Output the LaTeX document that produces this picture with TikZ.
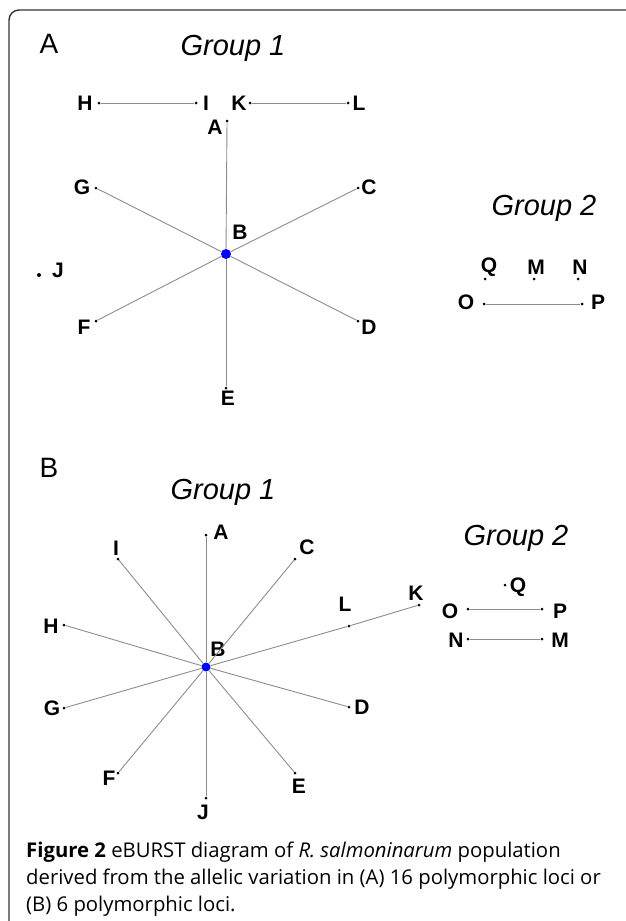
\documentclass[tikz,border=0pt]{standalone}
\usepackage{fontspec}
\newfontfamily\labfont{Liberation Sans}
\newfontfamily\capfont{Open Sans}
\begin{document}
\begin{tikzpicture}[x=1pt,y=-1pt,
  dot/.style={circle,fill=black,inner sep=0pt,minimum size=3pt},
  hub/.style={circle,fill=blue,inner sep=0pt,minimum size=10pt},
  lbl/.style={inner sep=0pt,font=\labfont\bfseries\fontsize{21}{21}\selectfont},
  grp/.style={inner sep=0pt,font=\labfont\itshape\fontsize{29}{29}\selectfont},
  panel/.style={inner sep=0pt,font=\labfont\fontsize{28}{28}\selectfont},
  edge/.style={draw=black!45,line width=0.9pt},
  captext/.style={inner sep=0pt,anchor=base west,font=\capfont\fontsize{20.3}{24}\selectfont},
  frame/.style={draw=black!80,line width=1.4pt,rounded corners=10pt}
]
\useasboundingbox (0,0) rectangle (625,921);
\draw[frame] (9,925) -- (9,10) -- (630,10);

% ---------------- Panel A ----------------
\node[panel] (pA) at (49,44) {A};
\node[grp] (gA1) at (233,48) {Group 1};
\node[grp] (gA2) at (544,208) {Group 2};

\node[hub] (aB) at (226,254) {};
\node[dot] (aA) at (227,121) {};
\node[dot] (aC) at (358,188) {};
\node[dot] (aD) at (358,321) {};
\node[dot] (aE) at (226,388) {};
\node[dot] (aF) at (96,321) {};
\node[dot] (aG) at (96,188) {};
\node[dot] (aH) at (99,103) {};
\node[dot] (aI) at (196,103) {};
\node[dot] (aK) at (250,103) {};
\node[dot] (aL) at (348,103) {};
\node[dot,minimum size=4pt] (aJ) at (39,275) {};
\node[dot] (aQ) at (485,279) {};
\node[dot] (aM) at (534,279) {};
\node[dot] (aN) at (578,279) {};
\node[dot] (aO) at (484,304) {};
\node[dot] (aP) at (582,304) {};

\node[lbl] (laA) at (215,127) {A};
\node[lbl] (laB) at (240,232) {B};
\node[lbl] (laC) at (369,187) {C};
\node[lbl] (laD) at (369,327) {D};
\node[lbl] (laE) at (228,398) {E};
\node[lbl] (laF) at (84,327) {F};
\node[lbl] (laG) at (82,187) {G};
\node[lbl] (laH) at (85,103) {H};
\node[lbl] (laI) at (206,103) {I};
\node[lbl] (laK) at (239,103) {K};
\node[lbl] (laL) at (359,103) {L};
\node[lbl] (laJ) at (58,270) {J};
\node[lbl] (laQ) at (489,267) {Q};
\node[lbl] (laM) at (536,267) {M};
\node[lbl] (laN) at (580,267) {N};
\node[lbl] (laO) at (466,302) {O};
\node[lbl] (laP) at (598,302) {P};

\draw[edge] (aB) -- (aA);
\draw[edge] (aB) -- (aC);
\draw[edge] (aB) -- (aD);
\draw[edge] (aB) -- (aE);
\draw[edge] (aB) -- (aF);
\draw[edge] (aB) -- (aG);
\draw[edge] (aH) -- (aI);
\draw[edge] (aK) -- (aL);
\draw[edge] (aO) -- (aP);

% ---------------- Panel B ----------------
\node[panel] (pB) at (49,468) {B};
\node[grp] (gB1) at (223,492) {Group 1};
\node[grp] (gB2) at (516,538) {Group 2};

\node[hub,minimum size=9pt] (bB) at (206,667) {};
\node[dot] (bA) at (206,535) {};
\node[dot] (bI) at (118,559) {};
\node[dot] (bC) at (295,559) {};
\node[dot] (bH) at (64,625) {};
\node[dot] (bL) at (349,626) {};
\node[dot] (bK) at (419,605) {};
\node[dot] (bG) at (64,708) {};
\node[dot] (bD) at (349,707) {};
\node[dot] (bF) at (118,773) {};
\node[dot] (bE) at (295,773) {};
\node[dot] (bJ) at (206,798) {};
\node[dot] (bQ) at (505,585) {};
\node[dot] (bO) at (468,609) {};
\node[dot] (bP) at (542,609) {};
\node[dot] (bN) at (468,639) {};
\node[dot] (bM) at (542,639) {};

\node[lbl] (lbA) at (221,532) {A};
\node[lbl] (lbB) at (218,649) {B};
\node[lbl] (lbI) at (116,548) {I};
\node[lbl] (lbC) at (307,547) {C};
\node[lbl] (lbH) at (51,626) {H};
\node[lbl] (lbL) at (345,604) {L};
\node[lbl] (lbK) at (416,593) {K};
\node[lbl] (lbG) at (52,708) {G};
\node[lbl] (lbD) at (362,707) {D};
\node[lbl] (lbF) at (109,778) {F};
\node[lbl] (lbE) at (299,786) {E};
\node[lbl] (lbJ) at (203,812) {J};
\node[lbl] (lbQ) at (518,587) {Q};
\node[lbl] (lbO) at (450,611) {O};
\node[lbl] (lbP) at (560,611) {P};
\node[lbl] (lbN) at (456,640) {N};
\node[lbl] (lbM) at (560,640) {M};

\draw[edge] (bB) -- (bA);
\draw[edge] (bB) -- (bI);
\draw[edge] (bB) -- (bC);
\draw[edge] (bB) -- (bH);
\draw[edge] (bB) -- (bL);
\draw[edge] (bL) -- (bK);
\draw[edge] (bB) -- (bG);
\draw[edge] (bB) -- (bD);
\draw[edge] (bB) -- (bF);
\draw[edge] (bB) -- (bE);
\draw[edge] (bB) -- (bJ);
\draw[edge] (bO) -- (bP);
\draw[edge] (bN) -- (bM);

% ---------------- Caption ----------------
\node[captext] (c1) at (26,857) {\textbf{Figure 2} eBURST diagram of \textit{R. salmoninarum} population};
\node[captext] (c2) at (26,884) {derived from the allelic variation in (A) 16 polymorphic loci or};
\node[captext] (c3) at (26,911) {(B) 6 polymorphic loci.};
\end{tikzpicture}
\end{document}
